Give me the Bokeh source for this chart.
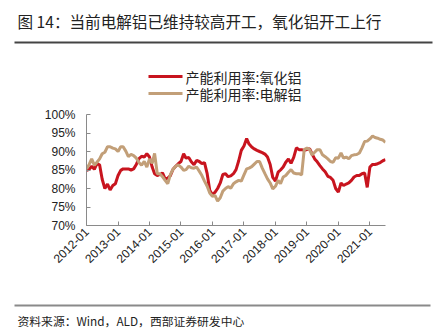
import pandas as pd
from bokeh.plotting import figure
from bokeh.models import (FixedTicker, DatetimeTickFormatter, PrintfTickFormatter, Range1d)
from bokeh.layouts import column
from bokeh.core.properties import value
from bokeh.embed import file_html
from bokeh.resources import INLINE
from math import pi

months = pd.date_range("2012-01-01", periods=115, freq="MS")

alumina = [
    84.9, 85.2, 86.0, 85.2, 86.7, 86.4, 82.5, 80.0, 81.2, 79.6, 80.8, 81.3,
    83.5, 84.9, 85.3, 85.3, 85.3, 85.0, 85.3, 86.5, 88.1, 88.7, 88.5, 89.4,
    88.5, 85.8, 84.0, 83.5, 83.8, 84.2, 82.6, 82.8, 83.5, 85.2, 86.0, 86.7,
    87.3, 89.4, 88.2, 88.4, 87.2, 86.4, 87.6, 87.3, 86.7, 87.0, 84.0, 79.5,
    78.3, 79.0, 80.0, 81.5, 83.8, 84.0, 83.2, 83.4, 84.0, 85.1, 87.5, 90.3,
    91.5, 93.5, 92.0, 91.2, 90.7, 90.3, 90.0, 89.7, 89.3, 88.5, 86.5, 83.0,
    82.0, 84.4, 85.0, 85.8, 87.1, 88.0, 86.8, 88.4, 91.0, 90.5, 90.5, 90.3,
    90.5, 90.8, 89.4, 88.0, 87.2, 86.2, 85.3, 84.5, 83.3, 83.0, 82.2, 80.0,
    79.0, 81.5, 80.8, 81.2, 81.5, 82.2, 83.1, 83.5, 83.5, 84.0, 84.2, 80.3,
    85.8, 86.5, 86.5, 86.7, 87.0, 87.5, 87.8,
]

aluminum = [
    85.3, 86.5, 88.0, 86.3, 87.1, 88.0, 89.4, 89.8, 91.3, 91.3, 90.9, 90.7,
    90.0, 91.3, 91.3, 90.1, 88.6, 89.2, 88.9, 88.2, 87.0, 86.3, 87.3, 85.8,
    88.0, 86.8, 89.5, 84.0, 84.0, 83.2, 82.2, 81.3, 83.8, 85.2, 86.0, 86.4,
    85.8, 84.9, 85.1, 86.0, 85.6, 85.5, 85.8, 84.7, 83.5, 82.0, 80.6, 78.8,
    77.9, 78.1, 76.6, 77.5, 79.3, 80.0, 80.5, 80.1, 81.3, 81.8, 82.2, 82.0,
    83.7, 85.3, 85.5, 85.9, 86.6, 87.3, 87.3, 85.5, 84.0, 82.6, 81.5, 79.9,
    80.6, 82.2, 81.3, 83.1, 83.5, 84.4, 85.1, 84.2, 84.0, 84.0, 83.7, 90.5,
    90.9, 90.5, 89.1, 89.8, 90.5, 90.5, 89.1, 88.6, 88.0, 87.3, 87.1, 88.3,
    88.2, 89.6, 88.2, 88.5, 88.0, 88.9, 89.1, 89.2, 89.6, 91.0, 92.7, 92.8,
    93.4, 94.2, 93.8, 93.6, 93.3, 93.1, 92.5,
]

year_ticks = pd.date_range("2012-01-01", "2021-01-01", freq="YS")
y_ticks = [70, 75, 80, 85, 90, 95, 100]

title_text = "图 14：当前电解铝已维持较高开工，氧化铝开工上行"
source_text = "资料来源：Wind，ALD，西部证券研发中心"
series_names = ["产能利用率:氧化铝", "产能利用率:电解铝"]

RED = "#C8141E"
TAN = "#C29F78"
COLORS = [RED, TAN]
CJK = "Noto Sans CJK SC"
LAT = "Liberation Sans"

W, H = 437, 334
TOP_H, BOT_H = 106, 44
MID_H = H - TOP_H - BOT_H


def blank(height):
    f = figure(width=W, height=height, output_backend="svg", toolbar_location=None,
               x_range=Range1d(0, W), y_range=Range1d(height, 0),
               min_border=0, min_border_left=0, min_border_right=0,
               min_border_top=0, min_border_bottom=0, frame_align=False)
    f.axis.visible = False
    f.grid.visible = False
    f.outline_line_color = None
    f.background_fill_color = "white"
    f.border_fill_color = "white"
    return f


# ---- header: title, rule, legend ----
top = blank(TOP_H)
top.text(x=[17], y=[20], text=[title_text], text_font=value(CJK),
         text_font_size="15.6px", text_color="#222222", text_baseline="middle")
top.segment(x0=[14], y0=[42], x1=[432], y1=[42], line_color="#444444", line_width=2)
leg_y = [76, 93]
top.segment(x0=[148, 148], y0=leg_y, x1=[182, 182], y1=leg_y,
            line_color=COLORS, line_width=3)
top.text(x=[185, 185], y=leg_y, text=series_names, text_font=value(CJK),
         text_font_size="14px", text_color="#222222", text_baseline="middle")

# ---- main chart ----
FL, FR = 86, 385
p = figure(width=W, height=MID_H, x_axis_type="datetime", output_backend="svg",
           toolbar_location=None, frame_align=False,
           x_range=Range1d(months[0], months[-1]), y_range=Range1d(70, 100),
           min_border_left=FL, min_border_right=W - FR,
           min_border_top=114 - TOP_H, min_border_bottom=TOP_H + MID_H - 225)
p.outline_line_color = None
p.grid.visible = False
p.background_fill_color = "white"
p.border_fill_color = "white"

p.line(months, alumina, color=RED, line_width=3)
p.line(months, aluminum, color=TAN, line_width=3)

for ax in (p.xaxis[0], p.yaxis[0]):
    ax.axis_line_color = "#8a8a8a"
    ax.major_tick_line_color = "#8a8a8a"
    ax.major_tick_in = 4
    ax.major_tick_out = 0
    ax.minor_tick_line_color = None
    ax.major_label_text_font = LAT
    ax.major_label_text_font_size = "12px"
    ax.major_label_text_color = "#222222"

p.xaxis.ticker = FixedTicker(ticks=[t.value // 10**6 for t in year_ticks])
p.xaxis.formatter = DatetimeTickFormatter(years="%Y-%m", months="%Y-%m", days="%Y-%m")
p.xaxis.major_label_orientation = pi / 4
p.xaxis.major_label_standoff = 4
p.yaxis.ticker = FixedTicker(ticks=y_ticks)
p.yaxis.formatter = PrintfTickFormatter(format="%d%%")
p.yaxis.major_label_standoff = 11

# ---- footer ----
bot = blank(BOT_H)
bot.segment(x0=[14], y0=[15], x1=[430], y1=[15], line_color="#8a8a8a", line_width=2)
bot.text(x=[17], y=[30], text=[source_text], text_font=value(CJK),
         text_font_size="11.8px", text_color="#222222", text_baseline="middle")

layout = column(top, p, bot, spacing=0)
open("out.html", "w").write(file_html(layout, INLINE))
